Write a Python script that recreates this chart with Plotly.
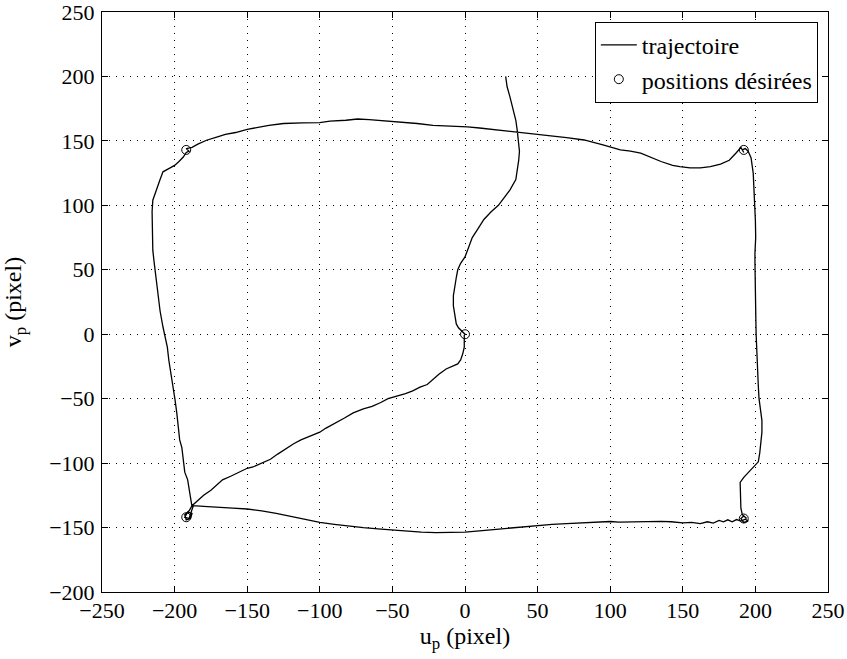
import plotly.graph_objects as go

# trajectory (u_p, v_p) in pixels
u_traj = [28, 29, 31, 33, 35, 36, 37, 37.5, 37, 36, 35, 31, 27, 23, 18, 13, 9, 5, 2, 0, -3, -5, -6, -7, -8, -8, -7, -6, -4.5, -2, 0,
          -0.5, -0.3, -0.5, -1.5, -3, -5, -9, -13, -18, -22, -26, -31, -36, -41, -47, -53, -58, -64, -70, -77, -83, -90, -96, -100,
          -107, -113, -118, -124, -129, -134, -140, -146, -150, -155, -161, -167, -171, -175, -180, -184, -188,
          -190, -193, -192, -189, -188, -191, -193, -190, -188, -187,
          -180, -170, -160, -150, -140, -130, -118, -108, -100, -90, -80, -70, -60, -50, -40, -30, -20, -10, 0, 10, 20, 29, 40, 52,
          60, 70, 80, 90, 100, 106, 115, 126, 135, 142, 150, 156, 162, 167, 171, 175, 178, 181, 184, 187, 190, 193, 195, 192, 190, 192, 194,
          191, 190, 189.8, 189.6, 189.5, 192, 196, 200, 202, 203, 204, 204.5, 204.5, 203.5, 202.5, 202, 201.5, 201, 200.5, 200.3, 200,
          199.8, 199.7, 199.7, 200.2, 200, 199.5, 199, 198.5, 197, 195, 193, 191, 192, 190,
          187, 182, 176, 169, 162, 155, 148, 143, 135, 128, 121, 114, 107, 95, 82, 70, 60, 52, 42, 31, 20, 10, 1.7, -10, -22, -33, -44.5,
          -52, -58, -66, -74, -82, -93, -100, -112, -125, -135, -143, -150, -158, -165, -171, -178, -184, -188, -192, -190, -192,
          -194, -197, -200, -204, -208, -210, -212, -215, -215.5, -215.5, -215.3, -215, -214, -213, -212, -211, -210, -208, -206.5,
          -205, -204, -202.5, -201.7, -200.5, -199.7, -198.5, -197.5, -196.5, -195, -194, -193, -191, -190, -189, -188]
v_traj = [200, 192, 184, 175, 166, 158, 150, 142, 135, 127, 120, 112, 106, 100, 95, 89, 82, 75, 66, 60, 55, 50, 44, 38, 30, 22, 14, 8, 5, 2, 0,
          -1, -5, -10, -15, -20, -23, -25, -27, -31, -35, -39, -41, -44, -46, -48, -50, -53, -56, -58, -61, -65, -69, -73, -76,
          -79, -82, -85, -89, -93, -97, -100, -103, -104, -107, -110, -113, -117, -121, -125, -129, -133,
          -137, -140, -144, -143, -139, -138, -142, -143, -136, -133,
          -133.5, -134.5, -135, -135.6, -137, -139, -141.8, -144, -146, -147.5, -149, -150, -151, -152, -152.5, -153.5, -154, -153.8,
          -153.5, -152.5, -151.5, -150.5, -149.5, -148,
          -147.5, -147, -146.5, -146, -145.3, -145.8, -145.5, -145, -145.2, -145.5, -146.3, -146, -147, -145.5, -146.5, -144.5, -145.5,
          -144, -145.5, -143.8, -145, -143.5, -145, -146, -143, -141, -143,
          -140, -135, -128, -121, -115, -111, -106, -101, -99, -92, -84, -76, -67, -58, -50, -40, -30, -15, 0, 12, 24,
          40, 55, 63, 75, 88, 100, 114, 125, 137, 142, 144, 143, 141, 145,
          141, 135, 132, 130, 129, 129, 130, 131, 134, 137.5, 140.5, 142, 143, 147, 150.7, 152.5, 153.8, 154.6, 156, 157.7, 159, 160,
          160.8, 161.5, 162, 163.5, 164.7,
          165.5, 166, 166.5, 167, 166, 165.4, 164.2, 164, 163.5, 162, 160.5, 159, 156.5, 155, 153, 150.5, 147.5, 145, 144, 142, 141,
          137.5, 134, 131, 128.5, 126, 120, 113, 104, 95, 83, 72, 65, 55, 45, 35, 29, 18, 5.6, -3,
          -10, -20, -30, -36, -45, -51, -61, -72, -82, -88, -98, -107, -113, -120, -128.6, -134]

# desired positions
u_des = [0, -192, 192, 192, -192]
v_des = [0, 143, 143, -143, -142]

x_ticks = [-250, -200, -150, -100, -50, 0, 50, 100, 150, 200, 250]
y_ticks = [-200, -150, -100, -50, 0, 50, 100, 150, 200, 250]

FONT = "Liberation Serif"

fig = go.Figure()
fig.add_trace(go.Scatter(x=u_traj, y=v_traj, mode="lines", name="trajectoire",
                         line=dict(color="black", width=1.3)))
fig.add_trace(go.Scatter(x=u_des, y=v_des, mode="markers", name="positions désirées",
                         marker=dict(symbol="circle-open", size=9, color="black",
                                     line=dict(color="black", width=1))))

axis_common = dict(showline=True, linecolor="black", linewidth=1, mirror="ticks",
                   ticks="inside", ticklen=6, tickcolor="black", tickwidth=1,
                   showgrid=True, gridcolor="black", gridwidth=1, griddash="1px,6px",
                   zeroline=False, automargin=False, ticklabeloverflow="allow",
                   tickfont=dict(family=FONT, size=22, color="black"))

fig.update_xaxes(range=[-250, 250], tickvals=x_ticks,
                 ticktext=["\u2212" + str(-t) if t < 0 else str(t) for t in x_ticks],
                 title=dict(text="u<sub>p</sub> (pixel)", font=dict(family=FONT, size=24, color="black"),
                            standoff=0),
                 ticklabelstandoff=-1, **axis_common)
fig.update_yaxes(range=[-200, 250], tickvals=y_ticks,
                 ticktext=["\u2212" + str(-t) if t < 0 else str(t) for t in y_ticks],
                 title=dict(text="v<sub>p</sub> (pixel)", font=dict(family=FONT, size=24, color="black"),
                            standoff=20),
                 ticklabelstandoff=2, **axis_common)

fig.update_layout(
    width=847, height=659,
    margin=dict(l=102, r=19, t=12, b=67, autoexpand=False),
    paper_bgcolor="white", plot_bgcolor="white",
    font=dict(family=FONT, color="black"),
    legend=dict(x=0.986, y=0.983, xanchor="right", yanchor="top",
                bordercolor="black", borderwidth=1, bgcolor="white",
                font=dict(family=FONT, size=24, color="black"),
                tracegroupgap=0, itemwidth=36),
    showlegend=True,
)

fig.write_html("out.html", config={"displayModeBar": False},
               post_script="document.body.style.margin='0';document.body.style.padding='0';")
